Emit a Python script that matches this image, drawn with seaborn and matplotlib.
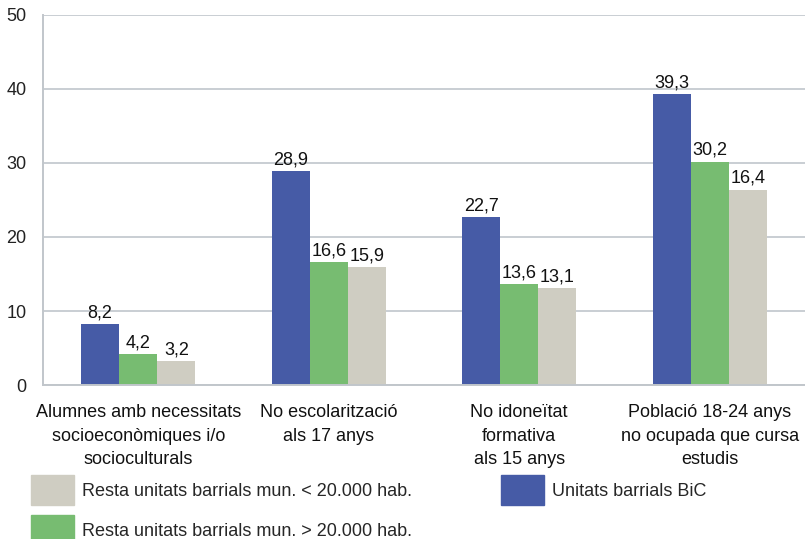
import numpy as np
import pandas as pd
import matplotlib as mpl
import matplotlib.pyplot as plt
import seaborn as sns
from matplotlib.patches import Patch

CATEGORIES = [
    "Alumnes amb necessitats\nsocioeconòmiques i/o\nsocioculturals",
    "No escolarització\nals 17 anys",
    "No idoneïtat\nformativa\nals 15 anys",
    "Població 18-24 anys\nno ocupada que cursa\nestudis",
]
SERIES = [
    "Unitats barrials BiC",
    "Resta unitats barrials mun. > 20.000 hab.",
    "Resta unitats barrials mun. < 20.000 hab.",
]
BIC = [8.2, 28.9, 22.7, 39.3]
MUN_GT = [4.2, 16.6, 13.6, 30.2]
MUN_LT = [3.2, 15.9, 13.1, 26.4]
# labels as printed in the source (last one differs from the bar height)
LABELS = [
    ["8,2", "28,9", "22,7", "39,3"],
    ["4,2", "16,6", "13,6", "30,2"],
    ["3,2", "15,9", "13,1", "16,4"],
]
COLORS = ["#465ba6", "#77bc71", "#cfcdc2"]

df = pd.DataFrame(
    {
        "cat": CATEGORIES * 3,
        "serie": np.repeat(SERIES, len(CATEGORIES)),
        "valor": BIC + MUN_GT + MUN_LT,
    }
)

sns.set_theme(style="white")
plt.rcParams["font.family"] = ["Liberation Sans", "DejaVu Sans"]

fig = plt.figure(figsize=(8.05, 5.39), dpi=100)
ax = fig.add_axes([0.0534, 0.2857, 0.9466, 0.6865])

sns.barplot(
    data=df,
    x="cat",
    y="valor",
    hue="serie",
    hue_order=SERIES,
    order=CATEGORIES,
    palette=COLORS,
    width=0.6,
    saturation=1,
    linewidth=0,
    legend=False,
    ax=ax,
)

for cont, labs in zip(ax.containers, LABELS):
    ax.bar_label(cont, labels=labs, padding=2, fontsize=13, color="#111111")

ax.set_ylim(0, 50)
ax.set_xlim(-0.5, 3.5)
ax.set_yticks(range(0, 51, 10))
ax.yaxis.grid(True, color="#c9ced3", linewidth=1.4)
ax.set_axisbelow(True)
ax.set_xlabel("")
ax.set_ylabel("")
ax.tick_params(axis="y", length=0, pad=12, labelsize=13, labelcolor="#222222")
ax.tick_params(axis="x", length=0, pad=14, labelsize=13, labelcolor="#111111")
ax.set_xticks([0.5, 1.5, 2.5], minor=True)
ax.tick_params(axis="x", which="minor", direction="in", length=6.5, color="#b8bdc3", width=1)
for lab in ax.get_yticklabels():
    lab.set_horizontalalignment("right")
for lab in ax.get_xticklabels():
    lab.set_linespacing(1.47)

for side in ["top", "right"]:
    ax.spines[side].set_visible(False)
for side in ["left", "bottom"]:
    ax.spines[side].set_color("#c1c6cb")
    ax.spines[side].set_linewidth(1.4)

handles = [
    Patch(color=COLORS[2], label=SERIES[2]),
    Patch(color=COLORS[1], label=SERIES[1]),
    Patch(color=COLORS[0], label=SERIES[0]),
]
fig.legend(
    handles=handles,
    loc="upper left",
    bbox_to_anchor=(0.0385, 0.119),
    ncol=2,
    frameon=False,
    fontsize=13,
    handlelength=2.4,
    handleheight=2.2,
    handletextpad=0.45,
    columnspacing=4.9,
    labelspacing=0.55,
    borderaxespad=0,
    borderpad=0,
)

fig.savefig("out.png", dpi=100)
